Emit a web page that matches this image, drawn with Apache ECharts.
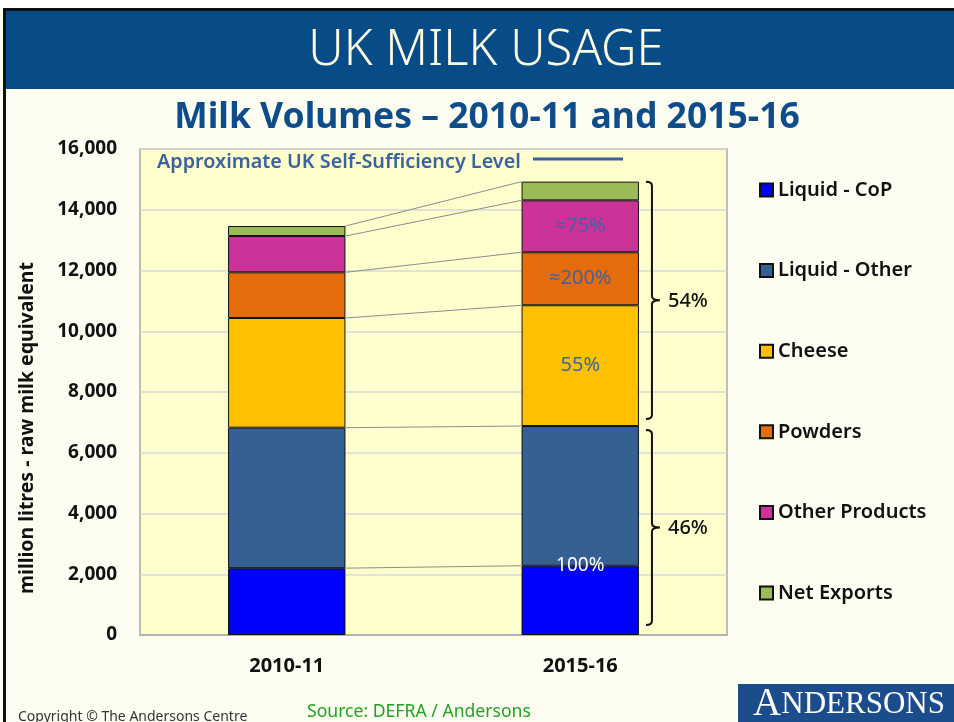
<!DOCTYPE html>
<html>
<head>
<meta charset="utf-8">
<title>UK Milk Usage</title>
<script src="https://cdn.jsdelivr.net/npm/echarts@6/dist/echarts.min.js"></script>
<style>
  html, body { margin: 0; padding: 0; background: #fdfdf2; }
  #chart { width: 954px; height: 722px; }
</style>
</head>
<body>
<div id="chart"></div>
<script>
// Milk usage by product, million litres raw milk equivalent
const categories = ['2010-11', '2015-16'];
const liquidCoP = [2200, 2280];
const liquidOther = [4625, 4600];
const cheese = [3610, 3975];
const powders = [1505, 1745];
const otherProducts = [1195, 1710];
const netExports = [330, 615];

// self-sufficiency annotations on the 2015-16 bar
const selfSufficiency2015 = ['100%', '', '55%', '\u2248200%', '\u224875%', ''];
const shareLabels = ['54%', '46%'];

const seriesNames = ['Liquid - CoP', 'Liquid - Other', 'Cheese', 'Powders', 'Other Products', 'Net Exports'];
const seriesValues = [liquidCoP, liquidOther, cheese, powders, otherProducts, netExports];
const seriesColors = ['#0000ff', '#376092', '#ffc000', '#e46c0a', '#cc3399', '#9bbb59'];

const FONT = '"Noto Sans", "Open Sans", sans-serif';
const BAR_RATIO = 0.4;

// running totals (top of each segment) per category
const tops = categories.map((_, c) => {
  let acc = 0;
  return seriesValues.map(v => (acc += v[c]));
});

const barSeries = seriesNames.map((name, s) => ({
  name,
  type: 'bar',
  stack: 'milk',
  barWidth: (BAR_RATIO * 100) + '%',
  itemStyle: { color: seriesColors[s], borderColor: '#111', borderWidth: 1 },
  data: seriesValues[s].map((v, c) => {
    const txt = c === 1 ? selfSufficiency2015[s] : '';
    const item = { value: v };
    if (txt) {
      item.label = s === 0 ? {
        show: true, formatter: txt, position: ['50%', 0], align: 'center', verticalAlign: 'middle',
        color: '#ffffff', fontSize: 19, fontFamily: FONT
      } : {
        show: true, formatter: txt, position: 'inside',
        color: '#3e64a3', fontSize: 20, fontFamily: FONT
      };
    }
    return item;
  })
}));

// series lines joining matching segment tops between the two bars
const connectorData = seriesNames.map((_, s) => [0, tops[0][s], tops[1][s]]);
const connectorSeries = {
  type: 'custom',
  name: 'connectors',
  silent: true,
  encode: { x: 0, y: 1 },
  data: connectorData,
  z: 1,
  renderItem(params, api) {
    const half = api.size([1, 0])[0] * BAR_RATIO / 2;
    const p1 = api.coord([0, api.value(1)]);
    const p2 = api.coord([1, api.value(2)]);
    return {
      type: 'line',
      shape: { x1: p1[0] + half, y1: p1[1], x2: p2[0] - half, y2: p2[1] },
      style: { stroke: '#8c8c8c', lineWidth: 1 }
    };
  }
};

// braces grouping the 2015-16 bar into processed products and liquid milk
const braceData = [
  [1, tops[1][5], tops[1][1], 0, 7, 0],
  [1, tops[1][1], 0, 4, 10, 1]
];
const braceSeries = {
  type: 'custom',
  name: 'braces',
  silent: true,
  encode: { x: 0, y: 1 },
  data: braceData,
  z: 5,
  renderItem(params, api) {
    const half = api.size([1, 0])[0] * BAR_RATIO / 2;
    const pTop = api.coord([1, api.value(1)]);
    const pBot = api.coord([1, api.value(2)]);
    const x0 = pTop[0] + half + 7;
    const xv = x0 + 6;
    const y1 = pTop[1] + api.value(3);
    const y2 = pBot[1] - api.value(4);
    const ym = (y1 + y2) / 2;
    const r = 4;
    const path = 'M' + x0 + ' ' + y1 +
      ' Q' + xv + ' ' + y1 + ' ' + xv + ' ' + (y1 + r) +
      ' L' + xv + ' ' + (ym - r) +
      ' Q' + xv + ' ' + ym + ' ' + (xv + 8) + ' ' + ym +
      ' Q' + xv + ' ' + ym + ' ' + xv + ' ' + (ym + r) +
      ' L' + xv + ' ' + (y2 - r) +
      ' Q' + xv + ' ' + y2 + ' ' + x0 + ' ' + y2;
    return {
      type: 'group',
      children: [
        { type: 'path', shape: { pathData: path }, style: { fill: null, stroke: '#111', lineWidth: 2 } },
        {
          type: 'text',
          style: {
            x: xv + 16, y: ym + 1, text: shareLabels[api.value(5)],
            fill: '#111', font: '500 20px ' + FONT, textAlign: 'left', textVerticalAlign: 'middle'
          }
        }
      ]
    };
  }
};

const chart = echarts.init(document.getElementById('chart'), null, { renderer: 'canvas' });
chart.setOption({
  backgroundColor: '#fdfdf2',
  animation: false,
  textStyle: { fontFamily: FONT },
  grid: {
    left: 140, top: 149, width: 587, height: 486,
    show: true, backgroundColor: '#ffffcd', borderColor: '#a8a8a8', borderWidth: 1.5
  },
  legend: {
    orient: 'vertical',
    left: 754, top: 174,
    itemWidth: 13, itemHeight: 13, itemGap: 58.6,
    icon: 'rect',
    data: seriesNames,
    textStyle: { fontSize: 20, fontWeight: 600, color: '#111', lineHeight: 22, fontFamily: FONT }
  },
  xAxis: {
    type: 'category',
    data: categories,
    axisLine: { lineStyle: { color: '#a8a8a8', width: 1.5 } },
    axisTick: { show: false },
    axisLabel: { color: '#111', fontSize: 20, fontWeight: 'bold', margin: 21, fontFamily: FONT }
  },
  yAxis: {
    type: 'value',
    min: 0, max: 16000, interval: 2000,
    axisLine: { show: false },
    axisTick: { show: false },
    axisLabel: {
      color: '#111', fontSize: 19, fontWeight: 'bold', margin: 23, fontFamily: FONT,
      formatter: v => v.toLocaleString('en-GB')
    },
    splitLine: { lineStyle: { color: '#d9d9d9', width: 1.5 } }
  },
  graphic: [
    { type: 'rect', left: 0, top: 0, shape: { width: 954, height: 9 }, style: { fill: '#ffffff' }, z: -1 },
    { type: 'rect', left: 3, top: 8, shape: { width: 951, height: 3 }, style: { fill: '#111111' } },
    { type: 'rect', left: 3, top: 8, shape: { width: 3, height: 714 }, style: { fill: '#111111' } },
    { type: 'rect', left: 6, top: 11, shape: { width: 948, height: 78 }, style: { fill: '#074b87' } },
    {
      type: 'text', x: 486, y: 51,
      style: { text: 'UK MILK USAGE', fill: '#fffde0', font: '300 49px ' + FONT, textAlign: 'center', textVerticalAlign: 'middle' }
    },
    {
      type: 'text', x: 487, y: 118,
      style: { text: 'Milk Volumes \u2013 2010-11 and 2015-16', fill: '#0e4c8a', font: 'bold 35.5px ' + FONT, textAlign: 'center', textVerticalAlign: 'middle' }
    },
    // y-axis title, placed below the axis midpoint
    {
      type: 'text', x: 27, y: 428, rotation: Math.PI / 2,
      style: { text: 'million litres - raw milk equivalent', fill: '#111', font: 'bold 19.5px ' + FONT, textAlign: 'center', textVerticalAlign: 'middle' }
    },
    {
      type: 'text', x: 157, y: 162,
      style: { text: 'Approximate UK Self-Sufficiency Level', fill: '#3a63a0', font: '600 19.8px ' + FONT, textVerticalAlign: 'middle' }
    },
    {
      type: 'line', shape: { x1: 533, y1: 159, x2: 623, y2: 159 },
      style: { stroke: '#3a5f9a', lineWidth: 3 }
    },
    {
      type: 'text', x: 18, y: 717,
      style: { text: 'Copyright \u00a9 The Andersons Centre', fill: '#333333', font: '14px ' + FONT, textVerticalAlign: 'middle' }
    },
    {
      type: 'text', x: 307, y: 712,
      style: { text: 'Source: DEFRA / Andersons', fill: '#22a322', font: '17.6px ' + FONT, textVerticalAlign: 'middle' }
    },
    { type: 'rect', left: 738, top: 684, shape: { width: 216, height: 38 }, style: { fill: '#1b4c8c' } },
    {
      type: 'text', x: 849, y: 705,
      style: {
        text: '{a|A}{b|NDERSONS}', textAlign: 'center', textVerticalAlign: 'middle',
        rich: {
          a: { fill: '#ffffff', font: '39px "Liberation Serif", serif' },
          b: { fill: '#ffffff', font: '31px "Liberation Serif", serif' }
        }
      }
    }
  ],
  series: [...barSeries, connectorSeries, braceSeries]
});
</script>
</body>
</html>
